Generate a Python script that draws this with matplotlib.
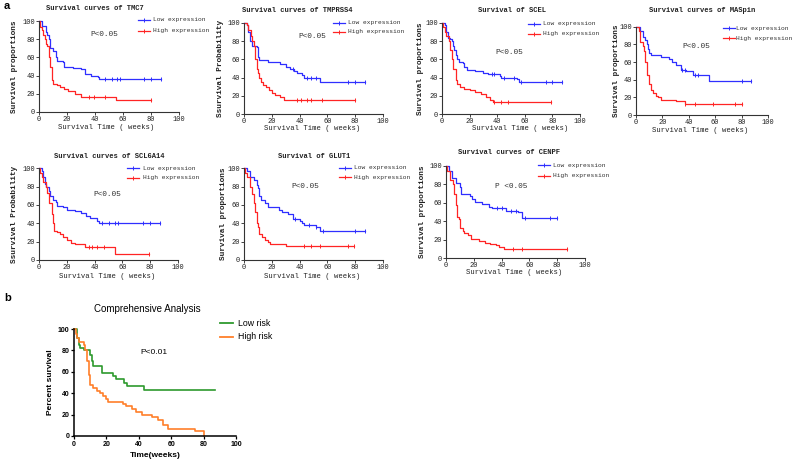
import numpy as np
import matplotlib
matplotlib.use("Agg")
import matplotlib.pyplot as plt
from matplotlib.lines import Line2D

W, H = 794, 462

# ---------------- data ----------------
tmc7_low_t = [0, 2, 5, 6, 7, 8, 10, 12, 13, 17, 18, 24, 30, 33, 37, 42, 43, 87]
tmc7_low_s = [100, 95, 88, 85, 80, 70, 67, 60, 56, 55, 50, 48, 47, 42, 40, 38, 36, 36]
tmc7_low_c = [47, 52, 56, 58, 75, 80, 87]
tmc7_high_t = [0, 1, 2, 3, 4, 5, 6, 7, 8, 9, 10, 13, 15, 18, 21, 26, 30, 55, 80]
tmc7_high_s = [100, 93, 90, 85, 80, 75, 72, 60, 50, 35, 31, 30, 27, 25, 23, 20, 17, 13, 13]
tmc7_high_c = [36, 39, 47, 80]

tmprss4_low_t = [0, 2, 3, 4, 6, 9, 10, 11, 17, 26, 30, 33, 36, 38, 42, 43, 55, 87]
tmprss4_low_s = [100, 97, 90, 80, 75, 73, 63, 59, 57, 55, 52, 49, 47, 45, 43, 40, 35, 35]
tmprss4_low_c = [35, 45, 48, 52, 75, 80, 87]
tmprss4_high_t = [0, 2, 3, 5, 6, 7, 8, 9, 10, 11, 12, 14, 16, 18, 20, 22, 26, 29, 80]
tmprss4_high_s = [100, 97, 92, 85, 80, 75, 60, 50, 45, 40, 35, 32, 30, 27, 23, 21, 19, 16, 16]
tmprss4_high_c = [38, 41, 45, 48, 56, 80]

scel_low_t = [0, 2, 3, 4, 6, 7, 8, 9, 10, 11, 12, 15, 16, 18, 24, 30, 33, 42, 43, 54, 56, 87]
scel_low_s = [100, 97, 90, 83, 82, 80, 75, 70, 65, 60, 57, 56, 52, 48, 47, 45, 44, 42, 40, 38, 35, 35]
scel_low_c = [36, 38, 45, 52, 57, 75, 80, 87]
scel_high_t = [0, 1, 2, 3, 5, 6, 7, 8, 10, 11, 13, 16, 20, 24, 28, 32, 35, 37, 79]
scel_high_s = [100, 95, 90, 85, 80, 70, 60, 50, 37, 33, 30, 28, 26, 24, 22, 19, 16, 13, 13]
scel_high_c = [38, 43, 48, 79]

maspin_low_t = [0, 3, 5, 7, 8, 9, 10, 11, 19, 25, 27, 30, 34, 38, 43, 55, 87]
maspin_low_s = [100, 95, 88, 85, 80, 75, 70, 68, 66, 63, 60, 57, 51, 50, 45, 38, 38]
maspin_low_c = [35, 37, 45, 47, 80, 87]
maspin_high_t = [0, 2, 3, 5, 6, 7, 8, 10, 11, 13, 15, 17, 19, 30, 37, 80]
maspin_high_s = [100, 95, 83, 78, 72, 60, 45, 35, 28, 25, 22, 20, 17, 16, 12, 12]
maspin_high_c = [37, 45, 58, 75, 80]

scl6a14_low_t = [0, 2, 3, 4, 5, 7, 8, 10, 12, 13, 17, 20, 26, 30, 34, 37, 42, 43, 87]
scl6a14_low_s = [100, 97, 90, 83, 80, 75, 70, 65, 63, 59, 58, 55, 53, 51, 48, 46, 43, 40, 40]
scl6a14_low_c = [45, 50, 55, 57, 75, 80, 87]
scl6a14_high_t = [0, 1, 2, 3, 5, 6, 7, 9, 10, 11, 13, 15, 17, 20, 23, 26, 33, 55, 79]
scl6a14_high_s = [100, 95, 90, 85, 80, 73, 62, 50, 40, 32, 30, 28, 25, 22, 19, 17, 14, 7, 7]
scl6a14_high_c = [36, 38, 42, 47, 79]

glut1_low_t = [0, 2, 4, 7, 9, 10, 11, 12, 15, 17, 25, 27, 32, 35, 40, 42, 43, 52, 55, 87]
glut1_low_s = [100, 97, 90, 87, 82, 78, 70, 65, 62, 58, 55, 52, 50, 45, 43, 40, 38, 36, 32, 32]
glut1_low_c = [37, 47, 52, 57, 80, 87]
glut1_high_t = [0, 1, 2, 4, 6, 7, 8, 9, 10, 11, 13, 15, 17, 19, 30, 79]
glut1_high_s = [100, 95, 90, 80, 72, 62, 52, 40, 36, 28, 25, 22, 20, 17, 15, 15]
glut1_high_c = [43, 48, 55, 75, 79]

cenpf_low_t = [0, 2, 4, 7, 10, 11, 17, 19, 21, 26, 31, 33, 43, 52, 55, 80]
cenpf_low_s = [100, 95, 87, 82, 77, 70, 67, 64, 61, 59, 56, 54, 51, 50, 44, 44]
cenpf_low_c = [37, 40, 47, 50, 57, 75, 80]
cenpf_high_t = [0, 1, 3, 5, 6, 7, 8, 9, 10, 12, 13, 16, 18, 24, 28, 32, 36, 38, 42, 87]
cenpf_high_s = [100, 95, 85, 80, 70, 58, 45, 43, 33, 30, 27, 25, 21, 19, 17, 16, 14, 12, 10, 10]
cenpf_high_c = [48, 55, 87]

comp_low_t = [0, 2, 3, 4, 6, 10, 11, 12, 17, 24, 26, 31, 33, 43, 87]
comp_low_s = [100, 92, 85, 82, 80, 76, 70, 65, 59, 56, 53, 50, 47, 43, 43]
comp_high_t = [0, 1, 2, 3, 6, 7, 8, 9, 10, 12, 14, 16, 18, 20, 21, 30, 32, 36, 38, 42, 48, 52, 55, 58, 75, 80]
comp_high_s = [100, 95, 92, 88, 85, 80, 70, 57, 48, 45, 42, 40, 37, 35, 32, 30, 28, 25, 22, 20, 18, 15, 10, 7, 5, 0]

x_ticks = [0, 20, 40, 60, 80, 100]
y_ticks = [0, 20, 40, 60, 80, 100]
legend_a = ["Low expression", "High expression"]
legend_b = ["Low risk", "High risk"]

# ---------------- layout ----------------
BLUE = "#2f2fff"
RED = "#ff2424"
GREEN = "#2e9a2e"
ORANGE = "#ff7f2a"
MONO = "Liberation Mono"
SANS = "Liberation Sans"

fig = plt.figure(figsize=(W / 100, H / 100), dpi=100)
fig.patch.set_facecolor("white")


def fx(x):
    return x / W


def fy(y):
    return 1 - y / H


def make_ax(x0, x1, ytop, ybot):
    return fig.add_axes([fx(x0), fy(ybot), (x1 - x0) / W, (ybot - ytop) / H])


def step_val(t, s, c):
    i = np.searchsorted(t, c, side="right") - 1
    return s[max(i, 0)]


panels = [
    dict(title="Survival curves of TMC7", box=(39, 179, 21, 112), tpos=(95, 8),
         ylabel="Survival proportions", ylx=15, xlpos=(106, 127), ppos=(90, 34), ptxt="P<0.05",
         leg=(138, 153, 20, 30.5),
         low=(tmc7_low_t, tmc7_low_s, tmc7_low_c), high=(tmc7_high_t, tmc7_high_s, tmc7_high_c)),
    dict(title="Survival curves of TMPRSS4", box=(244, 383, 22.7, 114.3), tpos=(297, 10),
         ylabel="Ssurvival Probability", ylx=220, xlpos=(312, 129), ppos=(298, 36), ptxt="P<0.05",
         leg=(333, 348, 22.7, 31.7),
         low=(tmprss4_low_t, tmprss4_low_s, tmprss4_low_c), high=(tmprss4_high_t, tmprss4_high_s, tmprss4_high_c)),
    dict(title="Survival of SCEL", box=(442, 580, 22.7, 114.3), tpos=(512, 10),
         ylabel="Survival proportions", ylx=420, xlpos=(520, 129), ppos=(495, 52), ptxt="P<0.05",
         leg=(528, 543, 24, 34),
         low=(scel_low_t, scel_low_s, scel_low_c), high=(scel_high_t, scel_high_s, scel_high_c)),
    dict(title="Survival curves of MASpin", box=(636, 768, 26.7, 115), tpos=(702, 10),
         ylabel="Survival proportions", ylx=617, xlpos=(700, 130), ppos=(682, 47), ptxt="P<0.05",
         leg=(723, 736, 28.3, 38.3),
         low=(maspin_low_t, maspin_low_s, maspin_low_c), high=(maspin_high_t, maspin_high_s, maspin_high_c)),
    dict(title="Survival curves of SCL6A14", box=(39, 178, 168.3, 260), tpos=(109, 157),
         ylabel="Ssurvival Probability", ylx=15, xlpos=(107, 276), ppos=(93, 195), ptxt="P<0.05",
         leg=(127, 143, 168.3, 177.7),
         low=(scl6a14_low_t, scl6a14_low_s, scl6a14_low_c), high=(scl6a14_high_t, scl6a14_high_s, scl6a14_high_c)),
    dict(title="Survival of GLUT1", box=(244, 383, 168.3, 260), tpos=(314, 157),
         ylabel="Survival proportions", ylx=223, xlpos=(312, 276), ppos=(291, 187), ptxt="P<0.05",
         leg=(339, 354, 167.7, 177.3),
         low=(glut1_low_t, glut1_low_s, glut1_low_c), high=(glut1_high_t, glut1_high_s, glut1_high_c)),
    dict(title="Survival curves of CENPF", box=(446, 585, 166, 258.3), tpos=(509, 153),
         ylabel="Survival proportions", ylx=423, xlpos=(514, 273), ppos=(495, 187), ptxt="P <0.05",
         leg=(538, 553, 165, 175.7),
         low=(cenpf_low_t, cenpf_low_s, cenpf_low_c), high=(cenpf_high_t, cenpf_high_s, cenpf_high_c)),
]

for p in panels:
    x0, x1, yt, yb = p["box"]
    ax = make_ax(x0, x1, yt, yb)
    for (t, s, c), col in ((p["low"], BLUE), (p["high"], RED)):
        t = np.asarray(t, float)
        s = np.asarray(s, float)
        ax.step(t, s, where="post", color=col, lw=0.9, clip_on=False)
        cy = [step_val(t, s, ci) for ci in c]
        ax.plot(c, cy, ls="none", marker="|", ms=3, mew=0.7, color=col, clip_on=False)
    ax.set_xlim(0, 100)
    ax.set_ylim(0, 100)
    ax.set_xticks(x_ticks)
    ax.set_yticks(y_ticks)
    for sp in ("top", "right"):
        ax.spines[sp].set_visible(False)
    for sp in ("left", "bottom"):
        ax.spines[sp].set_linewidth(0.8)
        ax.spines[sp].set_color("#333333")
    ax.tick_params(direction="out", length=2, width=0.6, pad=1, labelsize=5, colors="#222222")
    for lab in ax.get_xticklabels() + ax.get_yticklabels():
        lab.set_family(MONO)
    ax.patch.set_alpha(0)
    fig.text(fx(p["tpos"][0]), fy(p["tpos"][1]), p["title"], family=MONO, fontsize=5.1,
             fontweight="bold", ha="center", va="center", color="#222222")
    fig.text(fx(p["ylx"]), fy((yt + yb) / 2), p["ylabel"], family=MONO, fontsize=5.6,
             fontweight="bold", rotation=90, ha="center", va="center", color="#222222")
    fig.text(fx(p["xlpos"][0]), fy(p["xlpos"][1]), "Survival Time ( weeks)", family=MONO,
             fontsize=5.2, ha="center", va="center", color="#222222")
    fig.text(fx(p["ppos"][0]), fy(p["ppos"][1]), p["ptxt"], family=MONO, fontsize=5.6,
             ha="left", va="center", color="#333333")
    lx, tx, ly1, ly2 = p["leg"]
    for lbl, col, ly in ((legend_a[0], BLUE, ly1), (legend_a[1], RED, ly2)):
        fig.lines.append(Line2D([fx(lx), fx(lx + 12)], [fy(ly), fy(ly)], transform=fig.transFigure,
                                color=col, lw=0.9))
        fig.lines.append(Line2D([fx(lx + 6)], [fy(ly)], transform=fig.transFigure, color=col,
                                marker="|", ms=3, mew=0.7))
        fig.text(fx(tx), fy(ly), lbl, family=MONO, fontsize=4.5, ha="left", va="center",
                 color="#333333")

# ---------------- panel b ----------------
ax = make_ax(74, 236, 329, 436)
ax.step(comp_low_t, comp_low_s, where="post", color=GREEN, lw=1.2, clip_on=False)
ax.step(comp_high_t, comp_high_s, where="post", color=ORANGE, lw=1.2, clip_on=False)
ax.set_xlim(0, 100)
ax.set_ylim(0, 100)
ax.set_xticks(x_ticks)
ax.set_yticks(y_ticks)
for sp in ("top", "right"):
    ax.spines[sp].set_visible(False)
for sp in ("left", "bottom"):
    ax.spines[sp].set_linewidth(1.1)
ax.tick_params(direction="out", length=2.5, width=0.9, pad=1, labelsize=5)
for lab in ax.get_xticklabels() + ax.get_yticklabels():
    lab.set_family(SANS)
    lab.set_fontweight("bold")
ax.patch.set_alpha(0)
fig.text(fx(147), fy(309), "Comprehensive Analysis", family=SANS, fontsize=7, ha="center", va="center")
fig.text(fx(50), fy(382), "Percent survival", family=SANS, fontsize=6, fontweight="bold",
         rotation=90, ha="center", va="center")
fig.text(fx(155), fy(455.5), "Time(weeks)", family=SANS, fontsize=6, fontweight="bold",
         ha="center", va="center")
fig.text(fx(140), fy(352), "P<0.01", family=SANS, fontsize=6, ha="left", va="center")
for lbl, col, ly in ((legend_b[0], GREEN, 323), (legend_b[1], ORANGE, 336.5)):
    fig.lines.append(Line2D([fx(220), fx(233)], [fy(ly), fy(ly)], transform=fig.transFigure,
                            color=col, lw=1.3))
    fig.text(fx(238), fy(ly), lbl, family=SANS, fontsize=6.3, ha="left", va="center")

fig.text(fx(4), fy(6), "a", family=SANS, fontsize=8, fontweight="bold", ha="left", va="center")
fig.text(fx(4), fy(298), "b", family=SANS, fontsize=8, fontweight="bold", ha="left", va="center")

fig.savefig("out.png", dpi=100, facecolor="white")
